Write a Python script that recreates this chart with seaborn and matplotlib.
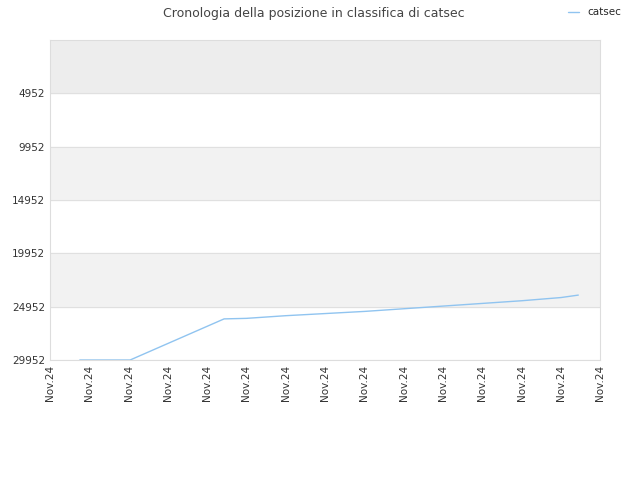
import matplotlib
matplotlib.use("Agg")
import matplotlib.pyplot as plt
import seaborn as sns
import pandas as pd

title = "Cronologia della posizione in classifica di catsec"
series_name = "catsec"
tick_labels = ["Nov.24"] * 15
y_ticks = [4952, 9952, 14952, 19952, 24952, 29952]

# positions in tick units, ranks
pos = [0.76, 2.04, 4.43, 5.0, 6.0, 7.0, 8.0, 9.0, 10.0, 11.0, 12.0, 13.0, 13.44]
rank = [29952, 29952, 26100, 26050, 25800, 25600, 25400, 25150, 24900, 24650, 24400, 24100, 23870]

df = pd.DataFrame({"x": pos, "rank": rank})

sns.set_style("white")
fig, ax = plt.subplots(figsize=(6.4, 4.8), dpi=100)
fig.subplots_adjust(left=0.078, right=0.938, top=0.917, bottom=0.25)

bands = [(-48, 4952, "#ededed"), (9952, 14952, "#f2f2f2"), (19952, 24952, "#f2f2f2")]
for lo, hi, c in bands:
    ax.axhspan(lo, hi, color=c, zorder=0)
for y in y_ticks:
    ax.axhline(y, color="#e0e0e0", lw=0.8, zorder=0)

sns.lineplot(data=df, x="x", y="rank", ax=ax, color="#90c4f0", lw=1, label=series_name)

ax.set_xlim(0, 14)
ax.set_ylim(29952, -48)
ax.set_xticks(range(15))
ax.set_xticklabels(tick_labels, rotation=90, fontsize=7.5, color="#333333")
ax.set_yticks(y_ticks)
ax.set_yticklabels([str(v) for v in y_ticks], fontsize=7.5, color="#333333")
ax.set_xlabel("")
ax.set_ylabel("")
for s in ax.spines.values():
    s.set_color("#dddddd")
    s.set_linewidth(0.8)
ax.tick_params(length=0)

fig.suptitle(title, x=0.49, y=0.985, fontsize=9, color="#444444")
ax.legend(loc="upper right", bbox_to_anchor=(1.045, 1.115), frameon=False,
          fontsize=7.5, handlelength=1, borderaxespad=0)

fig.savefig("out.png", dpi=100)
